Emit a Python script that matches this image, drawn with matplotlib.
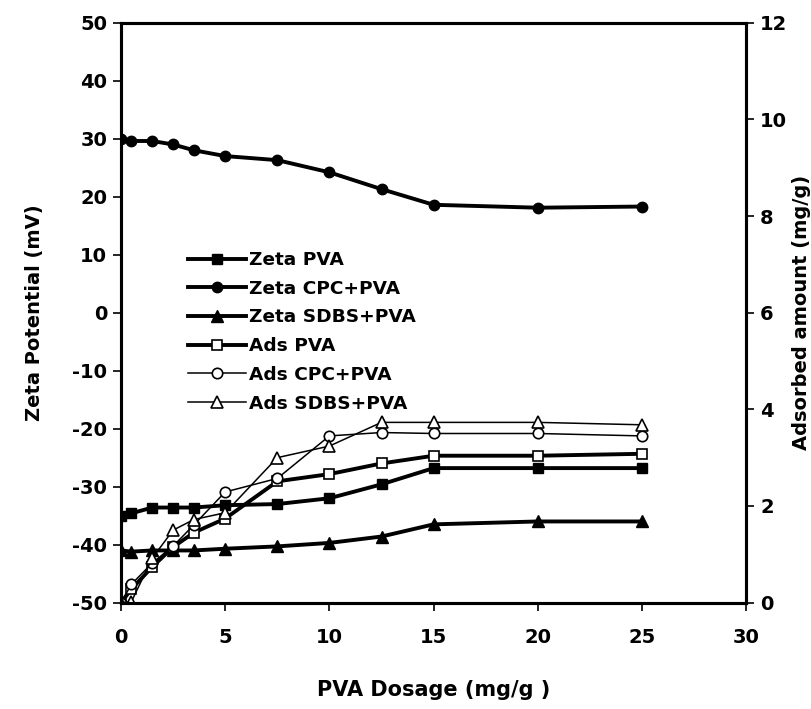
import numpy as np
import matplotlib.pyplot as plt

# PVA dosage (mg/g)
dosage = [0, 0.5, 1.5, 2.5, 3.5, 5, 7.5, 10, 12.5, 15, 20, 25]

# zeta potential (mV)
zeta_pva = [-35.0, -34.6, -33.6, -33.6, -33.6, -33.2, -33.0, -32.0, -29.6, -26.8, -26.8, -26.8]
zeta_cpc = [30.0, 29.6, 29.6, 29.0, 28.0, 27.0, 26.3, 24.2, 21.3, 18.6, 18.1, 18.3]
zeta_sdbs = [-41.0, -41.2, -41.0, -41.0, -41.0, -40.7, -40.3, -39.7, -38.6, -36.5, -36.0, -36.0]

# adsorbed amount (mg/g)
ads_pva = [0.0, 0.28, 0.74, 1.15, 1.45, 1.74, 2.51, 2.66, 2.88, 3.04, 3.04, 3.08]
ads_cpc = [0.0, 0.38, 0.82, 1.17, 1.61, 2.29, 2.57, 3.45, 3.52, 3.50, 3.50, 3.45]
ads_sdbs = [0.0, 0.02, 0.92, 1.50, 1.72, 1.86, 3.0, 3.24, 3.73, 3.73, 3.73, 3.68]

plt.rcParams['font.family'] = 'DejaVu Sans'
plt.rcParams['font.weight'] = 'bold'
plt.rcParams['axes.unicode_minus'] = False

fig = plt.figure(figsize=(8.12, 7.09), dpi=100)
ax = fig.add_axes([0.149, 0.150, 0.770, 0.818])
ax2 = ax.twinx()

thick = 2.8
thin = 1.1
ms = 7.5

l1, = ax.plot(dosage, zeta_pva, color='black', lw=thick, marker='s', ms=ms, label='Zeta PVA')
l2, = ax.plot(dosage, zeta_cpc, color='black', lw=thick, marker='o', ms=ms, label='Zeta CPC+PVA')
l3, = ax.plot(dosage, zeta_sdbs, color='black', lw=thick, marker='^', ms=ms + 0.5, label='Zeta SDBS+PVA')

l4, = ax2.plot(dosage, ads_pva, color='black', lw=thick, marker='s', ms=ms, mfc='white',
               mec='black', mew=1.2, label='Ads PVA')
l5, = ax2.plot(dosage, ads_cpc, color='black', lw=thin, marker='o', ms=ms, mfc='white',
               mec='black', mew=1.2, label='Ads CPC+PVA')
l6, = ax2.plot(dosage, ads_sdbs, color='black', lw=thin, marker='^', ms=ms + 1, mfc='white',
               mec='black', mew=1.2, label='Ads SDBS+PVA')

ax.set_xlim(0, 30)
ax.set_ylim(-50, 50)
ax2.set_ylim(0, 12)
ax.set_xticks(np.arange(0, 31, 5))
ax.set_yticks(np.arange(-50, 51, 10))
ax2.set_yticks(np.arange(0, 13, 2))

for a in (ax, ax2):
    for s in a.spines.values():
        s.set_linewidth(2.2)
    a.tick_params(direction='out', length=6, width=1.2, labelsize=14, pad=4)
ax.tick_params(axis='x', pad=12)

ax.set_xlabel('PVA Dosage (mg/g )', fontsize=15, fontweight='bold', labelpad=24)
ax.set_ylabel('Zeta Potential (mV)', fontsize=14, fontweight='bold', labelpad=20)
ax2.set_ylabel('Adsorbed amount (mg/g)', fontsize=14, fontweight='bold', labelpad=3)

leg = ax.legend(handles=[l1, l2, l3, l4, l5, l6], loc='upper left',
                bbox_to_anchor=(0.096, 0.619), frameon=False, fontsize=13.3,
                handlelength=3.1, handletextpad=0.2, labelspacing=0.58,
                borderaxespad=0)

fig.savefig('out.png', dpi=100)
